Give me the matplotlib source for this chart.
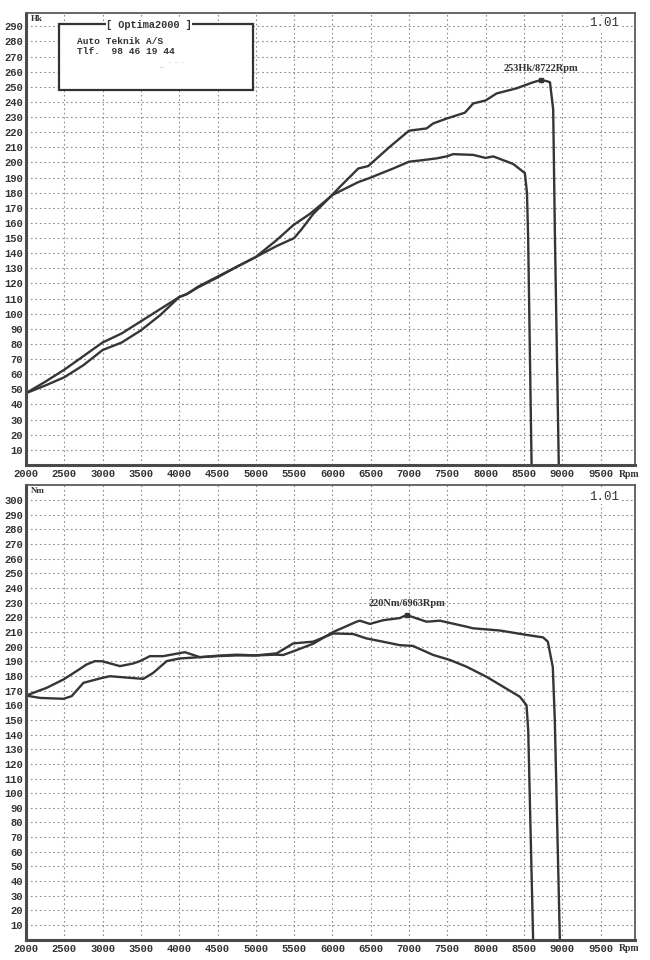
import matplotlib
matplotlib.use('Agg')
import matplotlib.pyplot as plt
from matplotlib.patches import Rectangle

# Power curve, run A (the one peaking at 253 Hk)
hk_a_rpm = [2000, 2250, 2500, 2750, 3000, 3250, 3500, 3750, 4000, 4100, 4250, 4500,
            4750, 5000, 5270, 5500, 5600, 5750, 5967, 6100, 6337, 6467, 6750, 7000, 7229,
            7316, 7490, 7729, 7838, 8000, 8142, 8403, 8620, 8722, 8794, 8840, 8882,
            8905, 8955]
hk_a = [47.5, 52.5, 58, 66, 76, 81, 89, 99, 111, 113, 118, 124.5,
        131, 137.5, 144.7, 150, 156, 166, 177, 184, 196, 197.6, 210.4, 221, 222.5,
        225.8, 229, 232.9, 239, 241, 245.6, 249, 253, 254.5, 253.8, 253, 235,
        150, 0]

# Power curve, run B
hk_b_rpm = [2000, 2250, 2500, 2750, 3000, 3250, 3500, 3750, 4000, 4100, 4250, 4500,
            4750, 5000, 5270, 5490, 5706, 5967, 6000, 6337, 6500, 6620, 6793, 7000,
            7190, 7360, 7490, 7577, 7838, 8000, 8100, 8360, 8512, 8540, 8555, 8600]
hk_b = [47.5, 55, 63, 72, 81, 87, 95, 103, 111, 113, 117.5, 124,
        131, 137.5, 148.6, 158.6, 166, 177, 178.5, 187, 190, 192.5, 196, 200.5,
        201.6, 202.7, 204, 205.5, 205, 203, 204, 199, 193, 180, 150, 0]

# Torque curve, run A (peak 220 Nm)
nm_a_rpm = [2000, 2183, 2490, 2596, 2750, 2996, 3096, 3357, 3531, 3661, 3836, 4001,
            4270, 4500, 4750, 5000, 5250, 5358, 5500, 5749, 6011, 6315, 6358, 6489,
            6660, 6881, 6968, 7229, 7403, 7751, 7838, 8186, 8534, 8750, 8812, 8877,
            8903, 8969]
nm_a = [166.6, 165, 164.4, 166.2, 175.3, 178.7, 179.8, 178.7, 178, 182.1, 190.1, 191.9,
        192.8, 193.5, 194, 194, 194.5, 194.3, 197, 202, 210, 217, 217.7, 215.5,
        218, 219.5, 221.6, 217, 217.7, 213.6, 212.5, 211, 208, 206.3, 203.4, 186,
        150, 0]

# Torque curve, run B
nm_b_rpm = [2000, 2270, 2490, 2660, 2790, 2900, 2996, 3226, 3400, 3487, 3618, 3790,
            4075, 4270, 4500, 4750, 5000, 5272, 5489, 5749, 6011, 6271, 6445, 6619,
            6880, 7050, 7316, 7534, 7751, 8012, 8230, 8447, 8534, 8556, 8620]
nm_b = [166.6, 171.9, 177.6, 183.3, 187.8, 190.1, 190, 186.7, 188.5, 190.1, 193.5, 193.5,
        196.2, 192.8, 193.8, 194.5, 194, 195.4, 202.2, 203.4, 209, 208.6, 205.6, 203.8,
        201, 200.5, 194.3, 190.9, 186.3, 179.4, 172.6, 165.8, 160, 143, 0]

rpm_ticks = list(range(2000, 10000, 500))

LINE = '#353535'
FRAME = '#4a4a4a'
MONO = 'Liberation Mono'

fig = plt.figure(figsize=(6.5, 9.6), dpi=100)
fig.patch.set_facecolor('white')

ax_hk = fig.add_axes([26 / 650, 1 - 465 / 960, (635 - 26) / 650, (465 - 12.7) / 960])
ax_nm = fig.add_axes([26 / 650, 1 - 939.7 / 960, (635 - 26) / 650, (939.7 - 485) / 960])


def style_axis(ax, ymax, ytop_tick, unit, ver_y):
    ax.set_xlim(2000, 9950)
    ax.set_ylim(0, ymax)
    ax.set_xticks(rpm_ticks)
    ax.set_yticks(range(10, ytop_tick + 1, 10))
    ax.grid(True, color='#8c8c8c', linestyle=(0, (1.5, 2.5)), linewidth=0.8)
    ax.set_axisbelow(True)
    ax.tick_params(length=0, pad=3, colors='#333333')
    for lbl in ax.get_xticklabels() + ax.get_yticklabels():
        lbl.set_fontfamily(MONO)
        lbl.set_fontweight('bold')
        lbl.set_fontsize(7.6)
    ax.tick_params(axis='y', pad=2)
    for side in ['left', 'bottom']:
        ax.spines[side].set_linewidth(2.2)
        ax.spines[side].set_color(FRAME)
    for side in ['top', 'right']:
        ax.spines[side].set_linewidth(1.3)
        ax.spines[side].set_color('#5a5a5a')
    # unit label top-left, version top-right, Rpm at end of x axis
    ax.text(0.008, 0.995, unit, transform=ax.transAxes, ha='left', va='top',
            fontsize=6.5, fontweight='bold', family='Liberation Serif', color='#333')
    ax.text(0.949, ver_y, '1.01', transform=ax.transAxes, ha='center', va='center',
            fontsize=9, family=MONO, color='#333',
            bbox=dict(facecolor='white', edgecolor='none', pad=0.5))
    ax.text(0.99, -0.01, 'Rpm', transform=ax.transAxes, ha='center', va='top',
            fontsize=7, fontweight='bold', family='Liberation Serif', color='#333',
            clip_on=False)


style_axis(ax_hk, 299, 290, 'Hk', 0.977)
style_axis(ax_nm, 310.3, 300, 'Nm', 0.974)

for ax, (xa, ya), (xb, yb), unit in [
        (ax_hk, (hk_a_rpm, hk_a), (hk_b_rpm, hk_b), 'Hk'),
        (ax_nm, (nm_a_rpm, nm_a), (nm_b_rpm, nm_b), 'Nm')]:
    ax.plot(xa, ya, color=LINE, linewidth=1.7, solid_joinstyle='round')
    ax.plot(xb, yb, color=LINE, linewidth=1.7, solid_joinstyle='round')
    i = max(range(len(ya)), key=lambda k: ya[k])
    ax.plot([xa[i]], [ya[i]], marker='s', markersize=2.5, color=LINE)
    peak_rpm = 8722 if unit == 'Hk' else 6963
    peak_val = 253 if unit == 'Hk' else 220
    ax.annotate(f'{peak_val}{unit}/{peak_rpm}Rpm', (xa[i], ya[i]),
                xytext=(0, 5), textcoords='offset points', ha='center', va='bottom',
                fontsize=7.5, fontweight='bold', family='Liberation Serif', color='#333')

# header box of the dyno printout
box = Rectangle((59 / 650, 1 - 89.5 / 960), 194 / 650, 65 / 960,
                transform=fig.transFigure, facecolor='white', edgecolor='#333333',
                linewidth=1.6, zorder=5)
fig.add_artist(box)
fig.text(149 / 650, 1 - 24.5 / 960, '[ Optima2000 ]', ha='center', va='center',
         fontsize=7.4, fontweight='bold', family=MONO, color='#333', zorder=6,
         bbox=dict(facecolor='white', edgecolor='none', pad=0.3))
fig.text(77 / 650, 1 - 41.5 / 960, 'Auto Teknik A/S', ha='left', va='center',
         fontsize=6.8, fontweight='bold', family=MONO, color='#333', zorder=6)
fig.text(77 / 650, 1 - 51.5 / 960, 'Tlf.  98 46 19 44', ha='left', va='center',
         fontsize=6.8, fontweight='bold', family=MONO, color='#333', zorder=6)
fig.text(176 / 650, 1 - 62 / 960, '- - -', ha='center', va='center',
         fontsize=4, color='#999', family=MONO, zorder=6)
fig.text(161 / 650, 1 - 68 / 960, '--', ha='center', va='center',
         fontsize=4, color='#999', family=MONO, zorder=6)

fig.savefig('out.png', dpi=100, facecolor='white')
